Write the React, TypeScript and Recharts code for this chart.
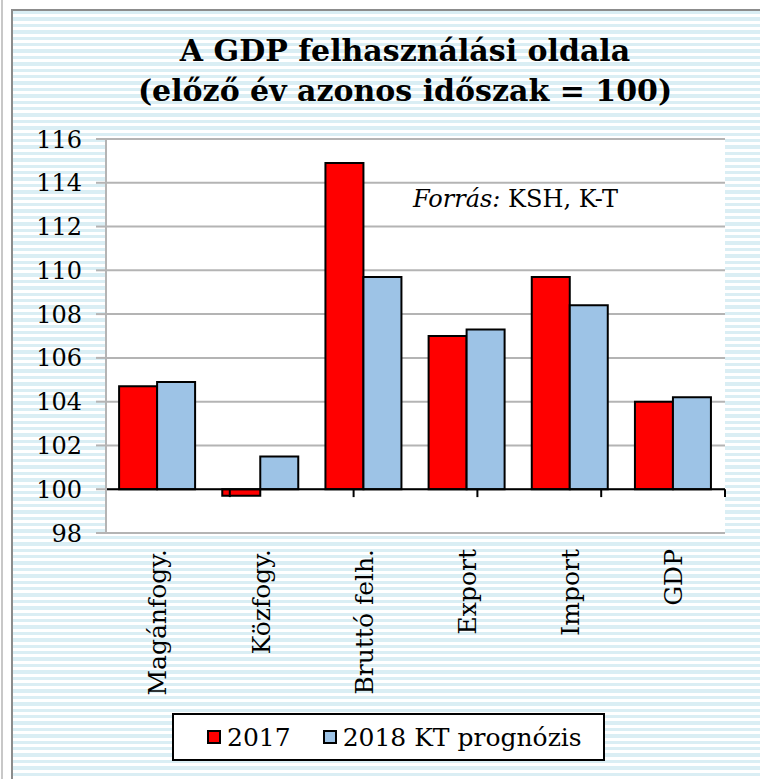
import { BarChart, Bar, XAxis, YAxis, CartesianGrid, ReferenceLine } from 'recharts';

const categories = ['Magánfogy.', 'Közfogy.', 'Bruttó felh.', 'Export', 'Import', 'GDP'];
const values2017 = [104.7, 99.7, 114.9, 107.0, 109.7, 104.0];
const values2018 = [104.9, 101.5, 109.7, 107.3, 108.4, 104.2];
const yTicks = [98, 100, 102, 104, 106, 108, 110, 112, 114, 116];
const seriesNames = ['2017', '2018 KT prognózis'];
const seriesColors = ['#ff0000', '#9dc3e6'];
const baseValue = 100;

const data = categories.map((name, i) => ({ name, a: values2017[i], b: values2018[i] }));
const boundaries = categories.map((_, i) => i).concat(categories.length);

const FONT = '"DejaVu Serif", serif';
const GRID = '#b4b4b4';

const CategoryTick = ({ x, y, payload }: any) => (
  <text
    x={x}
    y={y}
    transform={`rotate(-90, ${x}, ${y})`}
    textAnchor="end"
    dy="0.35em"
    style={{ fontFamily: FONT, fontSize: 25, fill: '#000' }}
  >
    {payload.value}
  </text>
);

export default function App() {
  return (
    <div style={{ position: 'relative', width: 760, height: 779, overflow: 'hidden', background: '#fff', fontFamily: FONT }}>
      <style>{'body{margin:0}'}</style>
      <div style={{ position: 'absolute', left: 1, top: 0, width: 2, height: 779, background: '#c8c8c8' }} />
      <div
        style={{
          position: 'absolute',
          left: 11,
          top: 9,
          width: 800,
          height: 800,
          borderLeft: '2px solid #8c8c8c',
          borderTop: '2px solid #8c8c8c',
          background: 'repeating-linear-gradient(to bottom, #daeef4 0px, #daeef4 3.4px, #ffffff 3.4px, #ffffff 6.4px)',
        }}
      />
      <div style={{ position: 'absolute', left: 0, top: 31, width: 810, textAlign: 'center', fontWeight: 'bold', fontSize: 30, lineHeight: '40px', color: '#000' }}>
        A GDP felhasználási oldala
        <br />
        (előző év azonos időszak = 100)
      </div>
      <div style={{ position: 'absolute', left: 0, top: 0 }}>
        <BarChart
          width={760}
          height={779}
          data={data}
          margin={{ top: 139, right: 35, bottom: 0, left: 0 }}
          barCategoryGap="12.7%"
          barGap={0}
        >
          <CartesianGrid vertical={false} fill="#fff" stroke={GRID} strokeWidth={2} />
          <XAxis
            dataKey="name"
            height={246}
            axisLine={false}
            tickLine={false}
            tickSize={0}
            tickMargin={16}
            interval={0}
            tick={(p: any) => <CategoryTick {...p} />}
          />
          <XAxis xAxisId="n" type="number" domain={[0, categories.length]} hide />
          <YAxis
            domain={[98, 116]}
            ticks={yTicks}
            width={106}
            axisLine={{ stroke: GRID, strokeWidth: 2 }}
            tickLine={{ stroke: GRID, strokeWidth: 2 }}
            tickSize={10}
            tickMargin={14}
            tick={{ fill: '#000', fontSize: 24, fontFamily: FONT }}
          />
          <YAxis
            yAxisId="r"
            orientation="right"
            domain={[98, 116]}
            width={0}
            tick={false}
            tickLine={false}
            axisLine={{ stroke: GRID, strokeWidth: 2 }}
          />
          <Bar dataKey={(d: any) => [baseValue, d.a]} name={seriesNames[0]} fill={seriesColors[0]} stroke="#000" strokeWidth={2} isAnimationActive={false} />
          <Bar dataKey={(d: any) => [baseValue, d.b]} name={seriesNames[1]} fill={seriesColors[1]} stroke="#000" strokeWidth={2} isAnimationActive={false} />
          <ReferenceLine y={baseValue} stroke="#000" strokeWidth={2} />
          {boundaries.map((b) => (
            <ReferenceLine
              key={b}
              xAxisId="n"
              segment={[{ x: b, y: baseValue }, { x: b, y: baseValue - 0.36 }]}
              stroke="#000"
              strokeWidth={2}
            />
          ))}
        </BarChart>
      </div>
      <div style={{ position: 'absolute', left: 413, top: 184, fontSize: 24, lineHeight: '30px', color: '#000', whiteSpace: 'nowrap' }}>
        <i>Forrás:</i> KSH, K-T
      </div>
      <div
        style={{
          position: 'absolute',
          left: 172,
          top: 713,
          width: 433,
          height: 48,
          border: '2px solid #000',
          background: '#fff',
          display: 'flex',
          alignItems: 'center',
          paddingLeft: 33,
          boxSizing: 'border-box',
          fontSize: 25,
          color: '#000',
        }}
      >
        {seriesNames.map((n, i) => (
          <div key={n} style={{ display: 'flex', alignItems: 'center', marginRight: 32 }}>
            <span style={{ width: 10, height: 10, border: '2px solid #000', background: seriesColors[i], marginRight: 6 }} />
            <span style={{ whiteSpace: 'nowrap' }}>{n}</span>
          </div>
        ))}
      </div>
    </div>
  );
}
